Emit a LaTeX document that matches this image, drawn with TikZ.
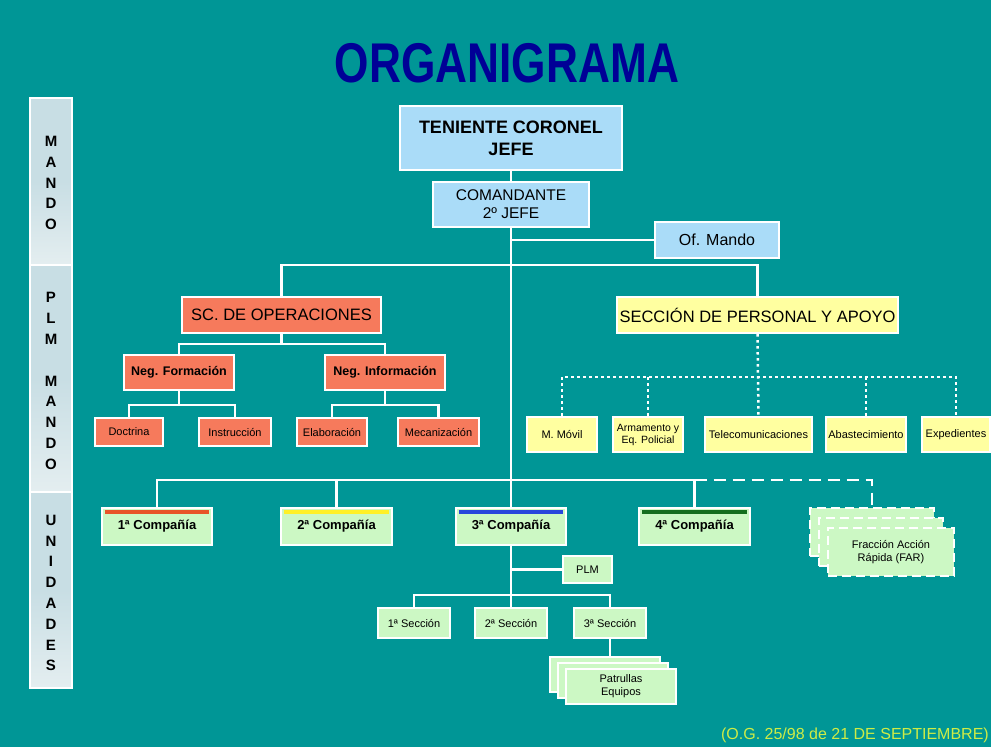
\documentclass[tikz,border=0pt]{standalone}
\usepackage{fontspec}
\setmainfont{Liberation Sans}
\usetikzlibrary{calc}
\definecolor{bgteal}{RGB}{0,150,150}
\definecolor{boxblue}{RGB}{170,220,248}
\definecolor{boxsalmon}{RGB}{246,122,92}
\definecolor{boxyellow}{RGB}{255,255,160}
\definecolor{boxgreen}{RGB}{204,248,196}
\definecolor{sidetop}{RGB}{200,222,228}
\definecolor{sidebot}{RGB}{228,238,240}
\definecolor{titleblue}{RGB}{0,0,150}
\definecolor{footcol}{RGB}{206,236,70}
\definecolor{stripered}{RGB}{232,84,40}
\definecolor{stripeyellow}{RGB}{255,240,40}
\definecolor{stripeblue}{RGB}{40,70,220}
\definecolor{stripegreen}{RGB}{20,110,30}
\pgfdeclarelayer{bg}
\pgfdeclarelayer{lines}
\pgfsetlayers{bg,lines,main}
\tikzset{
  box/.style={draw=white, line width=2.2pt, inner sep=1pt, align=center, text=black},
  bluebox/.style={box, fill=boxblue},
  salbox/.style={box, fill=boxsalmon},
  yelbox/.style={box, fill=boxyellow},
  grnbox/.style={box, fill=boxgreen},
  compbox/.style={grnbox, font=\fontsize{13}{15}\selectfont\bfseries, minimum height=37pt},
  farbox/.style={box, fill=boxgreen, dash pattern=on 9pt off 5pt},
  sidebox/.style={draw=white, line width=2pt, top color=sidetop, bottom color=sidebot, middle color=sidetop, inner sep=0pt},
  sidetext/.style={font=\fontsize{15}{20.8}\selectfont\bfseries, align=center, text=black, inner sep=0pt},
  conn/.style={draw=white, line width=2.5pt},
  dotline/.style={draw=white, line width=2.5pt, dash pattern=on 2.5pt off 3.5pt},
  dashline/.style={draw=white, line width=2.5pt, dash pattern=on 12pt off 7pt},
  stripe/.style={line width=4pt},
  big/.style={font=\fontsize{16.5}{19}\selectfont},
  med/.style={font=\fontsize{12.5}{15}\selectfont\bfseries},
  small/.style={font=\fontsize{11}{13}\selectfont},
}
\begin{document}
\begin{tikzpicture}[x=1pt,y=-1pt]
\useasboundingbox (0,0) rectangle (991,747);
\begin{pgfonlayer}{bg}
  \fill[bgteal] (0,0) rectangle (991,747);
\end{pgfonlayer}

% title
\node[font=\fontsize{56}{60}\selectfont\bfseries, text=titleblue, xscale=0.79, inner sep=0pt] (title) at (507,63) {ORGANIGRAMA};

% sidebar
\node[sidebox, minimum width=42pt, minimum height=167pt] (side1) at (51,181.5) {};
\node[sidebox, minimum width=42pt, minimum height=227pt] (side2) at (51,378.5) {};
\node[sidebox, minimum width=42pt, minimum height=196pt] (side3) at (51,590) {};
\node[sidetext] (st1) at (51,183) {M\\A\\N\\D\\O};
\node[sidetext] (st2) at (51,381) {P\\L\\M\\\mbox{}\\M\\A\\N\\D\\O};
\node[sidetext] (st3) at (51,593) {U\\N\\I\\D\\A\\D\\E\\S};

% command
\node[bluebox, minimum width=222pt, minimum height=64pt, font=\fontsize{18}{22}\selectfont\bfseries] (jefe) at (511,138) {TENIENTE CORONEL\\JEFE};
\node[bluebox, minimum width=156pt, minimum height=45pt, font=\fontsize{15.5}{18}\selectfont] (cmd) at (511,204.5) {COMANDANTE\\2º JEFE};
\node[bluebox, minimum width=124pt, minimum height=36pt, font=\fontsize{16}{19}\selectfont] (ofm) at (717,240) {Of. Mando};

% operations
\node[salbox, big, minimum width=199pt, minimum height=36pt] (ops) at (281.5,315) {SC. DE OPERACIONES};
\node[salbox, med, minimum width=110pt, minimum height=35pt] (negf) at (179,372.5) {Neg. Formación};
\node[salbox, med, minimum width=120pt, minimum height=35pt] (negi) at (385,372.5) {Neg. Información};
\node[salbox, small, minimum width=68pt, minimum height=28pt] (doc) at (129,432) {Doctrina};
\node[salbox, small, minimum width=72pt, minimum height=28pt] (ins) at (235,432) {Instrucción};
\node[salbox, small, minimum width=70pt, minimum height=28pt] (ela) at (332,432) {Elaboración};
\node[salbox, small, minimum width=81pt, minimum height=28pt] (mec) at (438.5,432) {Mecanización};

% personal
\node[yelbox, big, minimum width=281pt, minimum height=36pt] (pers) at (757.5,315) {SECCIÓN DE PERSONAL Y APOYO};
\node[yelbox, small, minimum width=70pt, minimum height=35pt] (mmov) at (562,434.5) {M. Móvil};
\node[yelbox, font=\fontsize{10.5}{12}\selectfont, minimum width=70pt, minimum height=35pt] (arm) at (648,434.5) {Armamento y\\Eq. Policial};
\node[yelbox, small, minimum width=107pt, minimum height=35pt] (tel) at (758.5,434.5) {Telecomunicaciones};
\node[yelbox, small, minimum width=80pt, minimum height=35pt] (aba) at (866,434.5) {Abastecimiento};
\node[yelbox, small, minimum width=68pt, minimum height=35pt] (exp) at (956,434.5) {Expedientes};

% companies
\node[compbox, minimum width=110pt] (c1) at (157,526.5) {1ª Compañía};
\node[compbox, minimum width=111pt] (c2) at (336.5,526.5) {2ª Compañía};
\node[compbox, minimum width=110pt] (c3) at (511,526.5) {3ª Compañía};
\node[compbox, minimum width=111pt] (c4) at (694.5,526.5) {4ª Compañía};
\draw[stripe, stripered] ($(c1.north west)+(4,5)$) -- ($(c1.north east)+(-4,5)$);
\draw[stripe, stripeyellow] ($(c2.north west)+(4,5)$) -- ($(c2.north east)+(-4,5)$);
\draw[stripe, stripeblue] ($(c3.north west)+(4,5)$) -- ($(c3.north east)+(-4,5)$);
\draw[stripe, stripegreen] ($(c4.north west)+(4,5)$) -- ($(c4.north east)+(-4,5)$);

% FAR stack
\node[farbox, minimum width=124pt, minimum height=48pt] (far3) at (872,532) {};
\node[farbox, minimum width=124pt, minimum height=48pt] (far2) at (881,542) {};
\node[farbox, small, minimum width=126pt, minimum height=48pt] (far1) at (891,552) {Fracción Acción\\Rápida (FAR)};

% sections
\node[grnbox, small, minimum width=49pt, minimum height=27pt] (plm) at (587.5,569.5) {PLM};
\node[grnbox, small, minimum width=72pt, minimum height=30pt] (s1) at (414,623) {1ª Sección};
\node[grnbox, small, minimum width=72pt, minimum height=30pt] (s2) at (511,623) {2ª Sección};
\node[grnbox, small, minimum width=72pt, minimum height=30pt] (s3) at (610,623) {3ª Sección};
\node[grnbox, minimum width=110pt, minimum height=35pt] (pat3) at (605,674.5) {};
\node[grnbox, minimum width=110pt, minimum height=35pt] (pat2) at (613,680.5) {};
\node[grnbox, small, minimum width=110pt, minimum height=35pt] (pat1) at (621,686.5) {Patrullas\\Equipos};

% footer
\node[font=\fontsize{16}{18}\selectfont, text=footcol, anchor=east, inner sep=0pt] (foot) at (989,735) {(O.G. 25/98 de 21 DE SEPTIEMBRE)};

% connectors
\coordinate (bar1) at (511,265);
\coordinate (bar2) at (281.5,344);
\coordinate (bar3) at (179,405);
\coordinate (bar4) at (385,405);
\coordinate (bar5) at (757.5,377);
\coordinate (bar6) at (511,480);
\coordinate (bar7) at (511,595);
\begin{pgfonlayer}{lines}
  \draw[conn] (jefe.south) -- (c3.north);
  \draw[conn] (ofm.west) -- (ofm.west -| jefe.south);
  \draw[conn] (ops.north) |- (bar1) -| (pers.north);
  \draw[conn] (ops.south) -- (bar2);
  \draw[conn] (negf.north) |- (bar2) -| (negi.north);
  \draw[conn] (negf.south) -- (bar3);
  \draw[conn] (doc.north) |- (bar3) -| (ins.north);
  \draw[conn] (negi.south) -- (bar4);
  \draw[conn] (ela.north) |- (bar4) -| (mec.north);
  \draw[dotline] (pers.south) -- (tel.north);
  \draw[dotline] (mmov.north) |- (bar5) -| (exp.north);
  \draw[dotline] (arm.north) -- (arm.north |- bar5);
  \draw[dotline] (aba.north) -- (aba.north |- bar5);
  \draw[conn] (c1.north) |- (bar6) -| (c4.north);
  \draw[conn] (c2.north) -- (c2.north |- bar6);
  \draw[dashline] (c4.north |- bar6) -| (far3.north);
  \draw[conn] (c3.south) -- (s2.north);
  \draw[conn] (plm.west) -- (plm.west -| c3.south);
  \draw[conn] (s1.north) |- (bar7) -| (s3.north);
  \draw[conn] (s3.south) -- (s3.south |- pat1.north);
\end{pgfonlayer}
\end{tikzpicture}
\end{document}
